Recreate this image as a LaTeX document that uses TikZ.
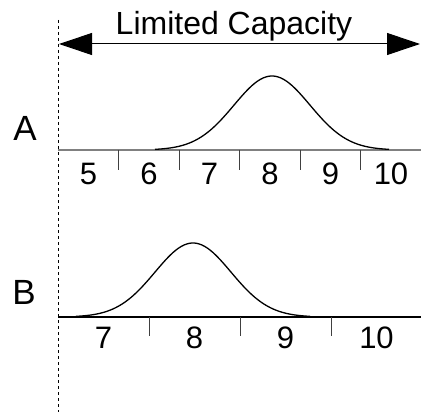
\documentclass[tikz,border=0pt]{standalone}
\usepackage{fontspec}
\setmainfont{Liberation Sans}
\usetikzlibrary{arrows.meta}
\tikzset{
  numlabel/.style={anchor=base,inner sep=0pt,font=\fontsize{31}{37}\selectfont},
  rowlabel/.style={anchor=base,inner sep=0pt,font=\fontsize{35}{42}\selectfont},
  tickmark/.style={line width=1pt,black!75},
  bellcurve/.style={line width=1.3pt,smooth},
}
\begin{document}
\begin{tikzpicture}[x=1pt,y=-1pt]
\useasboundingbox (0,0) rectangle (421,412);
% limits
\draw[dashed,dash pattern=on 3pt off 3pt,line width=1pt] (58,20) -- (58,412);
\coordinate (lo) at (59,44);
\coordinate (hi) at (420,44);
\draw[line width=1pt,{Triangle[length=33pt,width=22pt]}-{Triangle[length=33pt,width=22pt]}] (lo) -- (hi);
\node[numlabel,font=\fontsize{32}{38}\selectfont] (cap) at (234,35) {Limited Capacity};
% row A
\node[rowlabel] (la) at (25,140) {A};
\draw[line width=2pt,black!50] (58,150) -- (421,150);
\foreach \k in {1,...,5}
  \draw[tickmark] ({58+60.5*\k},150) -- ({58+60.5*\k},170);
\foreach \v [count=\i from 0] in {5,6,7,8,9,10}
  \node[numlabel] (a\v) at ({88.5+60.5*\i},185) {\v};
\draw[bellcurve] plot[domain=-117:117,samples=90] ({272+\x},{150-74*exp(-(\x/38)^2/2)});
% row B
\node[rowlabel] (lb) at (24,304) {B};
\draw[line width=1.3pt] (58,317) -- (421,317);
\foreach \k in {1,2,3}
  \draw[tickmark] ({58+91*\k},317) -- ({58+91*\k},336);
\foreach \v [count=\i from 0] in {7,8,9,10}
  \node[numlabel] (b\v) at ({103.5+91*\i},348) {\v};
\draw[bellcurve] plot[domain=-117:117,samples=90] ({193+\x},{317-74*exp(-(\x/38)^2/2)});
\end{tikzpicture}
\end{document}
